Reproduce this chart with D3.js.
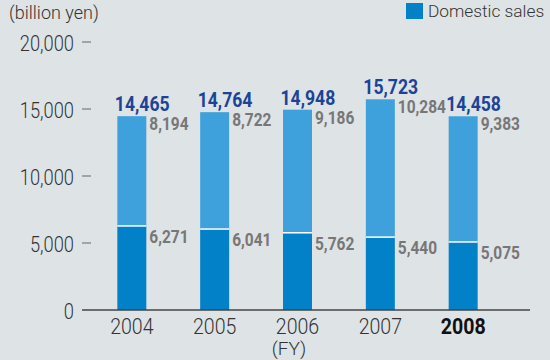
<!DOCTYPE html>
<html>
<head>
<meta charset="utf-8">
<script src="https://cdn.jsdelivr.net/npm/d3@7"></script>
<style>
  body { margin: 0; background: #dee3e6; }
  svg { display: block; font-family: Roboto, "Liberation Sans", sans-serif; }
</style>
</head>
<body>
<svg id="chart" width="550" height="360"></svg>
<script>
// sales by fiscal year, billion yen
const years = ['2004', '2005', '2006', '2007', '2008'];
const domestic = [6271, 6041, 5762, 5440, 5075];
const overseas = [8194, 8722, 9186, 10284, 9383];
const totals = [14465, 14764, 14948, 15723, 14458];
const yTicks = [0, 5000, 10000, 15000, 20000];

const svg = d3.select('#chart');
svg.append('rect').attr('width', 550).attr('height', 360).attr('fill', '#dee3e6');

const x = d3.scaleBand().domain(years).range([90, 505]).paddingInner(0.65).paddingOuter(0.33);
const y = d3.scaleLinear().domain([0, 20000]).range([310, 42]);
const fmt = d3.format(',');

// the original type is a narrow face, squeeze Roboto a little
function squeeze(sel, fx, fy, sx) {
  sel.attr('transform', (d, i) => 'translate(' + fx(d, i) + ',' + fy(d, i) + ') scale(' + sx + ',1)');
}

// y axis: labels with a small dash, no axis line
const yAxis = svg.append('g');
yAxis.selectAll('text').data(yTicks).enter().append('text')
  .attr('text-anchor', 'end')
  .attr('font-size', 21.5).attr('font-weight', 300).attr('fill', '#333')
  .text(d => fmt(d))
  .call(squeeze, () => 74, d => y(d) + 8.5, 0.85);
yAxis.selectAll('line').data(yTicks.filter(d => d > 0)).enter().append('line')
  .attr('x1', 82).attr('x2', 91)
  .attr('y1', d => y(d)).attr('y2', d => y(d))
  .attr('stroke', '#666').attr('stroke-width', 1);

svg.append('text').attr('x', 9).attr('y', 19)
  .attr('font-size', 18).attr('font-weight', 300).attr('fill', '#333')
  .text('(billion yen)');

// bars
const data = years.map((yr, i) => ({ yr: yr, dom: domestic[i], ovs: overseas[i], tot: totals[i] }));
const bars = svg.append('g');
bars.selectAll('rect.ovs').data(data).enter().append('rect')
  .attr('class', 'ovs')
  .attr('x', d => x(d.yr)).attr('width', x.bandwidth())
  .attr('y', d => y(d.dom + d.ovs)).attr('height', d => y(d.dom) - y(d.dom + d.ovs))
  .attr('fill', '#3fa1dc');
bars.selectAll('rect.dom').data(data).enter().append('rect')
  .attr('class', 'dom')
  .attr('x', d => x(d.yr)).attr('width', x.bandwidth())
  .attr('y', d => y(d.dom)).attr('height', d => y(0) - y(d.dom))
  .attr('fill', '#0280c8');
bars.selectAll('line.sep').data(data).enter().append('line')
  .attr('class', 'sep')
  .attr('x1', d => x(d.yr)).attr('x2', d => x(d.yr) + x.bandwidth())
  .attr('y1', d => y(d.dom)).attr('y2', d => y(d.dom))
  .attr('stroke', '#fff').attr('stroke-width', 1.5);

// value labels
svg.selectAll('text.tot').data(data).enter().append('text')
  .attr('class', 'tot')
  .attr('font-size', 20).attr('font-weight', 'bold').attr('fill', '#1b4397')
  .text(d => fmt(d.tot))
  .call(squeeze, d => x(d.yr) - 2.5, d => y(d.tot) - 5, 0.88);
svg.selectAll('text.ovsl').data(data).enter().append('text')
  .attr('class', 'ovsl')
  .attr('font-size', 18).attr('font-weight', 'bold').attr('fill', '#777')
  .text(d => fmt(d.ovs))
  .call(squeeze, d => x(d.yr) + x.bandwidth() + 3, d => y(d.tot) + 14, 0.86);
svg.selectAll('text.doml').data(data).enter().append('text')
  .attr('class', 'doml')
  .attr('font-size', 18).attr('font-weight', 'bold').attr('fill', '#777')
  .text(d => fmt(d.dom))
  .call(squeeze, d => x(d.yr) + x.bandwidth() + 3, d => y(d.dom) + 17, 0.86);

// x axis
svg.append('line').attr('x1', 82).attr('x2', 530).attr('y1', 310).attr('y2', 310)
  .attr('stroke', '#444').attr('stroke-width', 1.5);
svg.selectAll('text.yr').data(years).enter().append('text')
  .attr('class', 'yr')
  .attr('text-anchor', 'middle')
  .attr('font-size', 21.5)
  .attr('font-weight', (d, i) => i === years.length - 1 ? 'bold' : 300)
  .attr('fill', (d, i) => i === years.length - 1 ? '#111' : '#333')
  .text(d => d)
  .call(squeeze, d => x(d) + x.bandwidth() / 2, () => 334, 0.91);
svg.append('text').attr('x', 289).attr('y', 355).attr('text-anchor', 'middle')
  .attr('font-size', 19).attr('font-weight', 300).attr('fill', '#333')
  .text('(FY)');

// legend
svg.append('rect').attr('x', 406).attr('y', 3).attr('width', 17).attr('height', 16).attr('fill', '#0280c8');
svg.append('text').attr('x', 428).attr('y', 17)
  .attr('font-size', 17.3).attr('font-weight', 300).attr('fill', '#333')
  .text('Domestic sales');
</script>
</body>
</html>
